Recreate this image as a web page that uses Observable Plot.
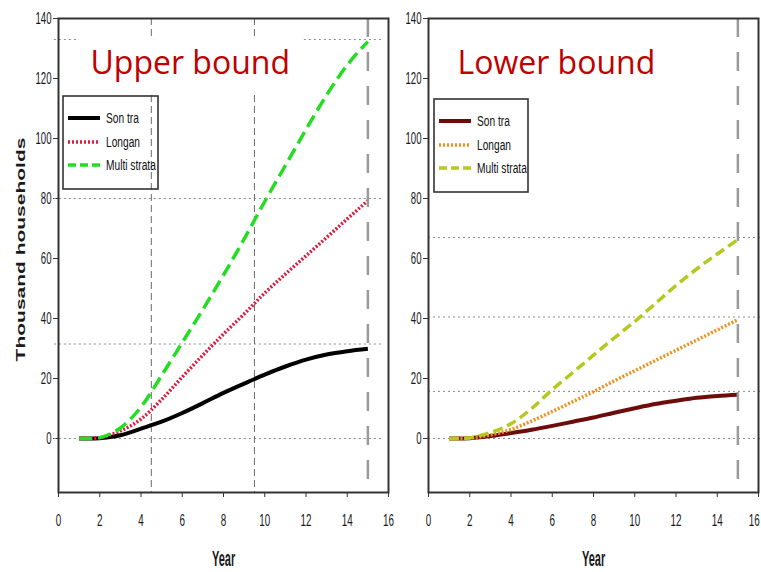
<!DOCTYPE html>
<html><head><meta charset="utf-8">
<script src="https://cdn.jsdelivr.net/npm/d3@7"></script>
<script src="https://cdn.jsdelivr.net/npm/@observablehq/plot@0.6"></script>
<style>
html,body{margin:0;padding:0;background:#fff;}
#chart{position:relative;width:761px;height:572px;overflow:hidden;background:#fff;}
.panel{position:absolute;top:0;}
.legend{position:absolute;overflow:visible;}
</style></head><body><div id="chart"></div>
<script>
// ---- data ----
const years = [1, 1.5, 2, 2.5, 3, 4, 5, 6, 7, 8, 9, 10, 11, 12, 13, 14, 15];
const seriesNames = ["Son tra", "Longan", "Multi strata"];

const upperSonTra = [0, 0, 0.1, 0.5, 1.1, 3.3, 5.6, 8.5, 11.8, 15.2, 18.3, 21.3, 24.0, 26.3, 28.0, 29.1, 29.9];
const upperLongan = [0, 0, 0.3, 1.2, 2.5, 6.5, 13.0, 20.5, 27.8, 34.8, 41.5, 48.5, 54.8, 60.9, 67.0, 73.2, 79.3];
const upperMulti  = [0, 0, 0.3, 1.5, 3.5, 10.5, 21.0, 32.0, 43.0, 54.5, 66.5, 79.0, 91.0, 103.0, 114.5, 124.5, 132.3];

const lowerSonTra = [0, 0, 0.1, 0.4, 0.8, 1.8, 2.9, 4.2, 5.6, 7.0, 8.6, 10.1, 11.5, 12.6, 13.6, 14.2, 14.6];
const lowerLongan = [0, 0, 0.2, 0.6, 1.2, 3.0, 5.8, 9.0, 12.3, 15.6, 19.2, 22.6, 26.0, 29.4, 32.8, 36.2, 39.6];
const lowerMulti  = [0, 0, 0.2, 1.0, 2.0, 4.9, 10.0, 16.3, 22.0, 27.8, 33.5, 39.0, 45.0, 51.0, 56.5, 61.5, 66.3];

const xTicks = [0, 2, 4, 6, 8, 10, 12, 14, 16];
const yTicks = [0, 20, 40, 60, 80, 100, 120, 140];
const upperRefLines = [133, 80, 31.5, 0];
const lowerRefLines = [67, 40.5, 15.7, 0];
const upperGridYears = [4.5, 9.5];
const endYear = [15];
const panelTitles = ["Upper bound", "Lower bound"];
const xLabel = "Year";
const yLabel = "Thousand households";

// ---- styles ----
const upperStyles = [
  {stroke: "#000000", strokeWidth: 4},
  {stroke: "#dc1c3c", strokeWidth: 3.5, strokeDasharray: "2,1.8"},
  {stroke: "#22dd22", strokeWidth: 3.5, strokeDasharray: "13,6"}
];
const lowerStyles = [
  {stroke: "#6e0c0c", strokeWidth: 4},
  {stroke: "#f0901e", strokeWidth: 3.5, strokeDasharray: "2,1.8"},
  {stroke: "#b4c81e", strokeWidth: 3.5, strokeDasharray: "10,5"}
];

function table(values) { return years.map((year, i) => ({year, value: values[i]})); }

function makePanel(o) {
  const marks = [
    Plot.ruleY(o.refLines, {x1: o.refX1, x2: o.refX2, stroke: "#8c8c8c", strokeWidth: 1, strokeDasharray: "2,3"}),
    Plot.ruleX(o.gridYears, {stroke: "#6a6a6a", strokeWidth: 1, strokeDasharray: "7,4"}),
    Plot.text([o.title], {text: d => d, frameAnchor: "top-left", dx: o.titleDx, dy: 55, textAnchor: "start", lineAnchor: "bottom",
      fontSize: 32, fontFamily: "Open Sans", fill: "#c00000", stroke: "white", strokeWidth: 36, strokeLinejoin: "round", paintOrder: "stroke"}),
    ...o.series.map((vals, i) => Plot.line(table(vals), {x: "year", y: "value", curve: "monotone-x", strokeLinecap: "butt", ...o.styles[i]})),
    Plot.ruleX(endYear, {stroke: "#9a9a9a", strokeWidth: 2.5, strokeDasharray: "19,15"}),
    Plot.frame({stroke: "#333", strokeWidth: 2}),
    Plot.text([xLabel], {text: d => d, frameAnchor: "bottom", dy: 66, textAnchor: "middle", lineAnchor: "middle",
      fontSize: 22, fontWeight: "bold", fill: "#1a1a1a"})
  ];
  if (o.showYLabel) marks.push(Plot.text([yLabel], {text: d => d, frameAnchor: "left", dx: -38, dy: -6, rotate: -90,
    textAnchor: "middle", lineAnchor: "middle", fontSize: 21, fontWeight: "bold", fill: "#1a1a1a"}));
  return Plot.plot({
    width: o.width, height: 572,
    marginLeft: o.marginLeft, marginRight: o.marginRight, marginTop: 18, marginBottom: 80,
    x: {domain: [0, 16], ticks: xTicks, tickSize: 5, tickPadding: 16, label: null},
    y: {domain: [-18, 140], ticks: yTicks, tickSize: 5, tickPadding: 2, label: null},
    style: {background: "transparent", fontFamily: "'Liberation Sans', Arial, sans-serif", fontSize: "15px", color: "#333", overflow: "visible"},
    marks
  });
}

// horizontally condense a text element around an anchor, like the squeezed original figure
function squeezeOne(t, s, anchor) {
  const r = t.getBoundingClientRect();
  const sx = anchor === "end" ? r.right : anchor === "start" ? r.left : r.left + r.width / 2;
  const P = t.parentNode.getScreenCTM().inverse();
  const p = new DOMPoint(sx, r.top).matrixTransform(P);
  const old = t.getAttribute("transform") || "";
  t.setAttribute("transform", `translate(${p.x},0) scale(${s},1) translate(${-p.x},0) ${old}`);
  const r2 = t.getBoundingClientRect();
  if (r2.right > 760) {
    t.setAttribute("transform", `translate(${760 - r2.right},0) ` + t.getAttribute("transform"));
  }
}

function styleTexts(svg) {
  const top = svg.getBoundingClientRect().top;
  svg.querySelectorAll("text").forEach(t => {
    const s = t.textContent.trim();
    if (s === xLabel) squeezeOne(t, 0.5, "center");
    else if (s === yLabel) squeezeOne(t, 0.64, "center");
    else if (/^[−\-]?\d+$/.test(s)) {
      const r = t.getBoundingClientRect();
      if (r.top - top > 492) { t.style.fontSize = "17px"; t.style.fill = "#1a1a1a"; squeezeOne(t, 0.58, "center"); }
      else { t.style.fontSize = "16px"; t.style.fill = "#1a1a1a"; squeezeOne(t, 0.6, "end"); }
    }
  });
}

const legendRows = [23, 47, 70];
function drawLegend(container, left, top, w, h, styles) {
  const svg = d3.select(container).append("svg").attr("class", "legend")
    .style("left", left + "px").style("top", top + "px").attr("width", w).attr("height", h);
  svg.append("rect").attr("x", 1).attr("y", 1).attr("width", w - 2).attr("height", h - 2)
    .attr("fill", "none").attr("stroke", "#333").attr("stroke-width", 1.6);
  seriesNames.forEach((name, i) => {
    const y = legendRows[i], st = styles[i];
    svg.append("line").attr("x1", 6).attr("x2", 38).attr("y1", y).attr("y2", y)
      .attr("stroke", st.stroke).attr("stroke-width", st.strokeWidth)
      .attr("stroke-dasharray", i === 0 ? null : i === 1 ? "2,2" : "8,4");
    svg.append("text").attr("transform", `translate(44,${y}) scale(0.68,1)`).attr("dy", "0.35em")
      .attr("font-family", "'Liberation Sans', Arial, sans-serif").attr("font-size", 15).attr("fill", "#111").text(name);
  });
}

const chart = document.getElementById("chart");
const panels = [
  {series: [upperSonTra, upperLongan, upperMulti], styles: upperStyles, refLines: upperRefLines, gridYears: upperGridYears,
   title: panelTitles[0], titleDx: 32, showYLabel: true, width: 389, marginLeft: 58, marginRight: 1, refX1: -0.2, refX2: 15.66, left: 0},
  {series: [lowerSonTra, lowerLongan, lowerMulti], styles: lowerStyles, refLines: lowerRefLines, gridYears: [],
   title: panelTitles[1], titleDx: 29, showYLabel: false, width: 372, marginLeft: 39, marginRight: 3, refX1: 0, refX2: 16.2, left: 389}
];
panels.forEach(o => {
  const div = document.createElement("div");
  div.className = "panel";
  div.style.left = o.left + "px";
  chart.appendChild(div);
  div.appendChild(makePanel(o));
  styleTexts(div.querySelector("svg"));
});
drawLegend(chart, 62, 95, 97, 95, upperStyles);
drawLegend(chart, 433, 98, 96, 95, lowerStyles);
</script>
</body></html>
